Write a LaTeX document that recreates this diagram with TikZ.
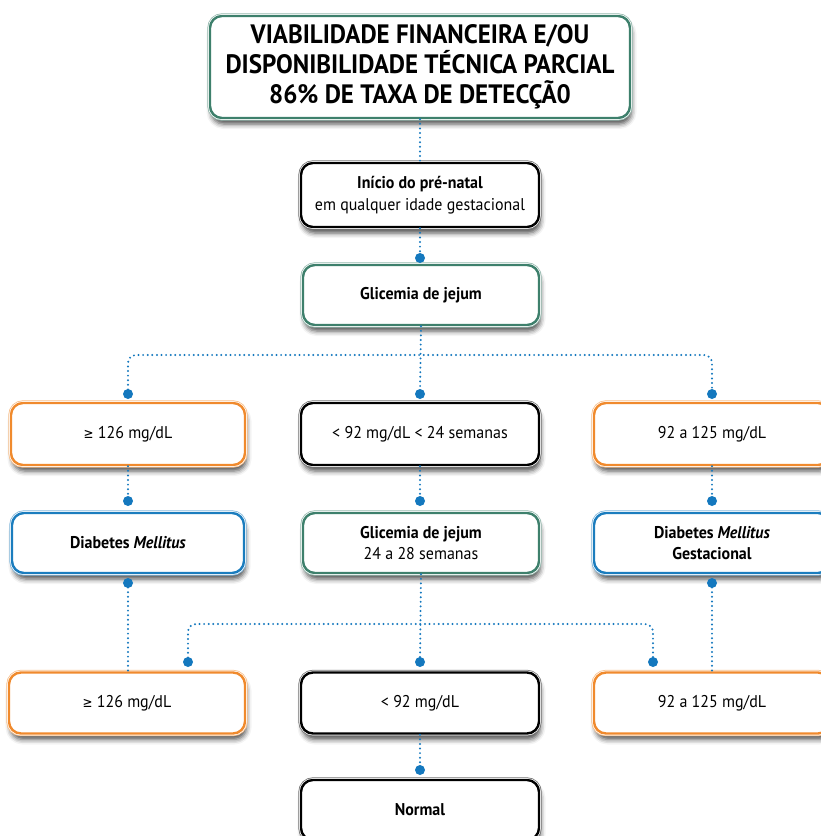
\documentclass[tikz,border=0pt]{standalone}
\usepackage{fontspec}
\setmainfont{PT Sans}[FakeStretch=0.94]
\newfontfamily\symf{DejaVu Sans}[FakeStretch=0.85]
\usetikzlibrary{shadows.blur}
\definecolor{cgreen}{RGB}{62,128,108}
\definecolor{corange}{RGB}{240,138,45}
\definecolor{cblue}{RGB}{27,125,190}
\definecolor{cdot}{RGB}{20,120,190}
\newcommand{\mygeq}{{\symf\fontsize{14}{17}\selectfont ≥}}
\tikzset{
  fc/.style={rectangle, rounded corners=12pt, fill=white, align=center, inner sep=0pt,
    blur shadow={shadow xshift=1.5pt, shadow yshift=-6pt, shadow blur radius=5pt, shadow opacity=70},
    preaction={draw=#1!55, line width=5.4pt},
    preaction={draw=white, line width=3.8pt},
    draw=#1, line width=2.4pt, font=\fontsize{17}{21.5}\selectfont},
  conn/.style={draw=cdot, line width=2.2pt, line cap=round, dash pattern=on 0pt off 4.6pt},
  dotm/.style={fill=cdot},
}
\begin{document}
\begin{tikzpicture}[x=1pt,y=-1pt]
\useasboundingbox (0,0) rectangle (821,836);
% nodes
\node[fc=cgreen, minimum width=420, minimum height=102, font=\fontsize{26.6}{30}\selectfont\bfseries] (top) at (420,67)
  {VIABILIDADE FINANCEIRA E/OU\\DISPONIBILIDADE TÉCNICA PARCIAL\\86\% DE TAXA DE DETECÇÃ0};
\node[fc=black, minimum width=238, minimum height=64] (ini) at (420,195)
  {\textbf{Início do pré-natal}\\em qualquer idade gestacional};
\node[fc=cgreen, minimum width=236, minimum height=60] (g1) at (421,295) {\textbf{Glicemia de jejum}};
\node[fc=corange, minimum width=234, minimum height=62] (r3l) at (128,434) {\mygeq{} 126 mg/dL};
\node[fc=black, minimum width=238, minimum height=62] (r3m) at (420,434) {< 92 mg/dL < 24 semanas};
\node[fc=corange, minimum width=236, minimum height=62] (r3r) at (712,434) {92 a 125 mg/dL};
\node[fc=cblue, minimum width=232, minimum height=60] (r4l) at (128,543) {\textbf{Diabetes \textit{Mellitus}}};
\node[fc=cgreen, minimum width=236, minimum height=60] (r4m) at (421,543) {\textbf{Glicemia de jejum}\\24 a 28 semanas};
\node[fc=cblue, minimum width=236, minimum height=60] (r4r) at (712,543) {\textbf{Diabetes \textit{Mellitus}}\\\textbf{Gestacional}};
\node[fc=corange, minimum width=236, minimum height=61] (r5l) at (127,703) {\mygeq{} 126 mg/dL};
\node[fc=black, minimum width=238, minimum height=61] (r5m) at (420,703) {< 92 mg/dL};
\node[fc=corange, minimum width=236, minimum height=61] (r5r) at (712,703) {92 a 125 mg/dL};
\node[fc=black, minimum width=238, minimum height=60] (nor) at (420,810) {\textbf{Normal}};
% coordinates
\coordinate (c1) at (420,258);
\coordinate (b1) at (420,355);
\coordinate (d3l) at (128,394);
\coordinate (d3m) at (420,394);
\coordinate (d3r) at (712,394);
\coordinate (d4l) at (128,501);
\coordinate (d4m) at (420,501);
\coordinate (d4r) at (712,501);
\coordinate (u4l) at (128,583);
\coordinate (u4r) at (712,583);
\coordinate (b2) at (420,624);
\coordinate (d5l) at (188,662);
\coordinate (d5m) at (420,662);
\coordinate (d5r) at (653,662);
\coordinate (d6) at (420,770);
% connectors
\draw[conn] (top.south) -- (ini.north);
\draw[conn] (ini.south) -- (c1);
\draw[conn] (g1.south) -- (d3m);
\draw[conn, rounded corners=8pt] (d3l) |- (b1) -| (d3r);
\draw[conn] (r3l.south) -- (d4l);
\draw[conn] (r3m.south) -- (d4m);
\draw[conn] (r3r.south) -- (d4r);
\draw[conn] (u4l) -- (r5l.north -| u4l);
\draw[conn] (u4r) -- (r5r.north -| u4r);
\draw[conn] (r4m.south) -- (d5m);
\draw[conn, rounded corners=8pt] (d5l) |- (b2) -| (d5r);
\draw[conn] (r5m.south) -- (d6);
\foreach \p in {c1,d3l,d3m,d3r,d4l,d4m,d4r,u4l,u4r,d5l,d5m,d5r,d6}
  \fill[dotm] (\p) circle (5pt);
\end{tikzpicture}
\end{document}
